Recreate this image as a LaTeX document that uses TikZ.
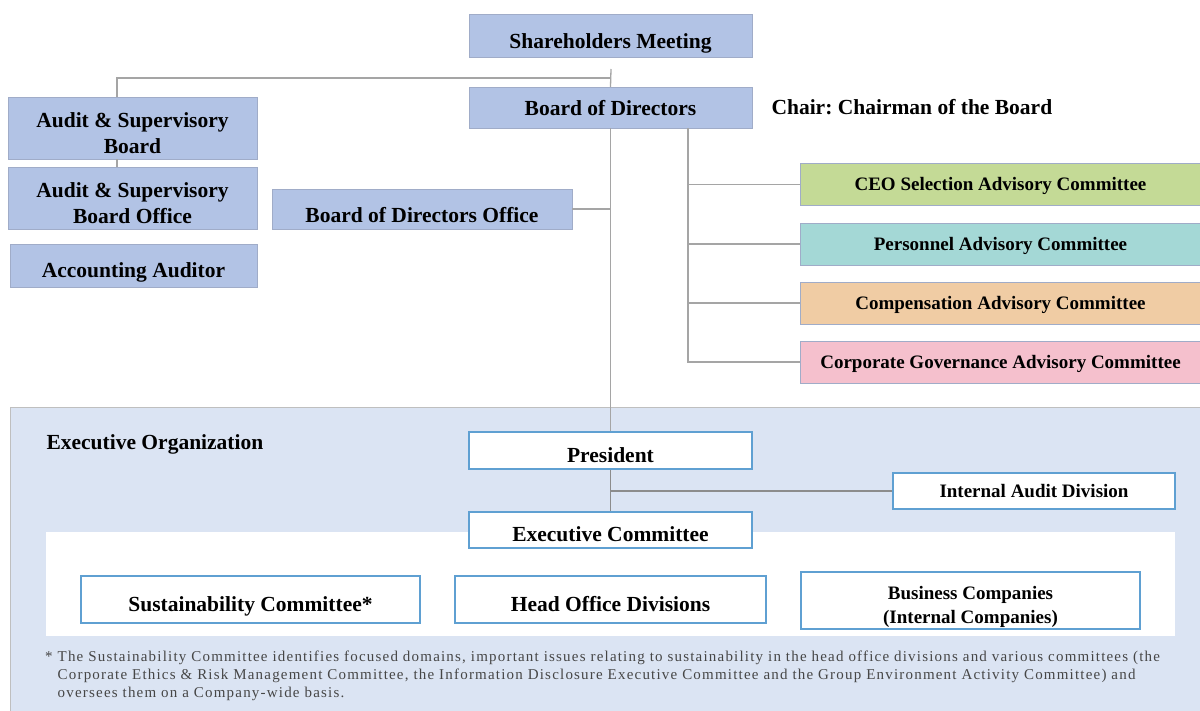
\documentclass[tikz,border=0pt]{standalone}
\usepackage{fontspec}
\setmainfont{Liberation Serif}
\newfontfamily\notefont[LetterSpace=8]{Liberation Serif}
\usepackage{xcolor}
\usepackage{tikz}
\frenchspacing

\definecolor{boardblue}{RGB}{178,195,229}
\definecolor{boardline}{RGB}{160,172,200}
\definecolor{ceogreen}{RGB}{196,218,150}
\definecolor{persteal}{RGB}{164,216,214}
\definecolor{compbeige}{RGB}{240,204,164}
\definecolor{govpink}{RGB}{245,192,205}
\definecolor{panelblue}{RGB}{219,228,243}
\definecolor{exeline}{RGB}{95,160,210}
\definecolor{linkgray}{RGB}{165,165,165}
\definecolor{notegray}{RGB}{70,70,70}

\newcommand{\twolines}[2]{\smash{\begin{tabular}[b]{@{}c@{}}#1\\#2\end{tabular}}}

\begin{document}
\begin{tikzpicture}[x=1pt,y=-1pt,
  big/.style={font=\fontsize{21.5}{26}\selectfont\bfseries},
  small/.style={font=\fontsize{19}{24}\selectfont\bfseries},
  box/.style={draw=boardline,fill=boardblue,inner sep=0pt,big,text depth=0pt,text height=24pt},
  com/.style={draw=boardline,inner sep=0pt,minimum width=401pt,minimum height=42pt,
    small,text depth=0pt,text height=12.6pt},
  exe/.style={draw=exeline,fill=white,inner sep=0pt,line width=1.1pt,text depth=0pt},
  link/.style={draw=linkgray,line width=1.3pt}]
\useasboundingbox(0,0)rectangle(1200,711);

% executive panel
\draw[fill=panelblue,draw=black!25,line width=1pt](10,407)rectangle(1202,713);
\fill[white](46,532)rectangle(1175,636);

% board side
\node[box,minimum width=283pt,minimum height=43pt,text height=25.2pt](sh)at(610.5,35.5){Shareholders Meeting};
\node[box,minimum width=283pt,minimum height=41pt,text height=15.2pt](bod)at(610.5,107.5){Board of Directors};
\node[anchor=west,big](chair)at(768,107.5){Chair: Chairman of the Board};
\node[box,minimum width=249pt,minimum height=62pt,text height=50.2pt](asb)at(132.5,128){\twolines{Audit \& Supervisory}{Board}};
\node[box,minimum width=249pt,minimum height=62pt,text height=50.2pt](asbo)at(132.5,198){\twolines{Audit \& Supervisory}{Board Office}};
\node[box,minimum width=247pt,minimum height=43pt,text height=23.2pt](aa)at(133.5,265.5){Accounting Auditor};
\node[box,minimum width=300pt,minimum height=40pt,text height=26.2pt](bodo)at(422,209){Board of Directors Office};

%\node[com,fill=...] ...
\foreach\nm/\col/\yy/\txt in{ceo/ceogreen/184.5/CEO Selection Advisory Committee,
  pers/persteal/244/Personnel Advisory Committee,
  comp/compbeige/303/Compensation Advisory Committee,
  cgov/govpink/362/Corporate Governance Advisory Committee}
  {\node[com,fill=\col](\nm)at(1000.5,\yy){\txt};}

% executive side
\node[anchor=west,big](exorg)at(43,444){Executive Organization};
\node[exe,big,minimum width=283pt,minimum height=37pt,text height=23.2pt](pres)at(610.5,450.5){President};
\node[exe,small,minimum width=282pt,minimum height=36pt,text height=12.6pt](iad)at(1034,491){Internal Audit Division};
\node[exe,big,minimum width=283pt,minimum height=36pt,text height=22.2pt](exco)at(610.5,530){Executive Committee};
\node[exe,big,minimum width=339pt,minimum height=47pt,text height=23.2pt](sus)at(250.5,599.5){Sustainability Committee*};
\node[exe,big,minimum width=311pt,minimum height=47pt,text height=23.2pt](hod)at(610.5,599.5){Head Office Divisions};
\node[exe,small,minimum width=339pt,minimum height=57pt,text height=45.6pt](bco)at(970.5,600.5){\twolines{Business Companies}{(Internal Companies)}};

\node[anchor=north west,align=left,text=notegray,inner sep=0pt,
  font=\fontsize{15}{18}\notefont](note)at(45,651){%
* The Sustainability Committee identifies focused domains, important issues relating to sustainability in the head office divisions and various committees (the\\
\hphantom{* }Corporate Ethics \& Risk Management Committee, the Information Disclosure Executive Committee and the Group Environment Activity Committee) and\\
\hphantom{* }oversees them on a Company-wide basis.};

% connectors
\coordinate(split)at(611,78);
\draw[link](611,69)coordinate(stub)--(bod.north);
\draw[link](split)-|([xshift=-15.5pt]asb.north);
\draw[link]([xshift=-15.5pt]asb.south)--([xshift=-15.5pt]asbo.north);
\draw[link](bod.south)--(pres.north);
\draw[link](bodo.east)--(bodo.east-|bod.south);
\foreach\nm in{ceo,pers,comp,cgov}
  {\draw[link]([xshift=77.5pt]bod.south)|-(\nm.west);}
\draw[link,draw=black!45](pres.south)--(exco.north);
\draw[link,draw=black!45](pres.south|-iad.west)--(iad.west);
\end{tikzpicture}
\end{document}
